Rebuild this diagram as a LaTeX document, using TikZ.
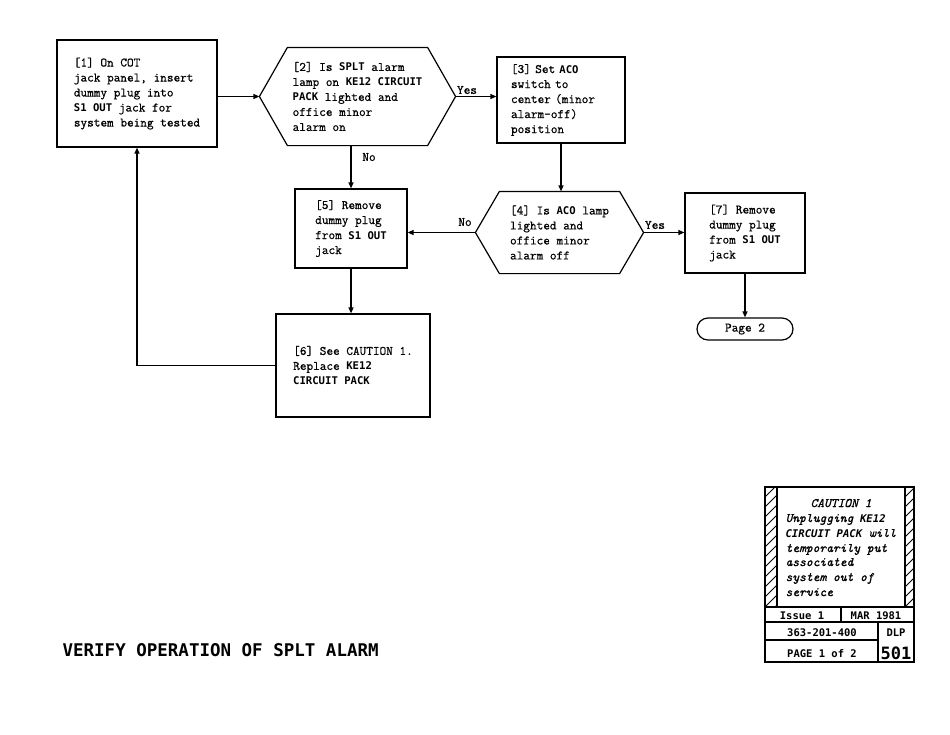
\documentclass[tikz,border=0pt]{standalone}
\usepackage{fontspec}
\usetikzlibrary{arrows.meta}
\newfontfamily\twfont[FakeBold=0.7]{Latin Modern Mono}
\newfontfamily\cwfont[FakeBold=1.2]{Latin Modern Mono}
\newfontfamily\bsfont{DejaVu Sans Mono}
\newcommand\body{\twfont\fontsize{12.9}{15}\selectfont}
\newcommand\Bw[1]{{\bsfont\bfseries\fontsize{10.6}{15}\selectfont #1}}
\tikzset{
  box/.style={draw, rectangle, inner sep=0pt, align=left, font=\body},
  hexn/.style={rectangle, inner sep=0pt, align=left, font=\body},
  term/.style={draw, rectangle, rounded corners=11pt, inner sep=0pt, font=\body},
  lbl/.style={inner sep=0pt, font=\body},
  cline/.style={inner sep=0pt, anchor=base west, font={\cwfont\itshape\fontsize{12.9}{15}\selectfont}},
  tcell/.style={inner sep=0pt, anchor=base, font={\bsfont\bfseries\fontsize{10.5}{14}\selectfont}},
  conn/.style={draw, line width=1.2pt, -{Triangle[length=6pt,width=5pt]}},
  plain/.style={draw, line width=1.2pt}
}
\begin{document}
\begin{tikzpicture}[x=1pt,y=-1pt,line width=1.2pt]
\useasboundingbox[fill=white] (0,0) rectangle (950,734);

% boxes
\node[box, minimum width=160pt, minimum height=107pt] (b1) at (137,93.5)
  {[1] On COT\\jack panel, insert\\dummy plug into\\\Bw{S1 OUT} jack for\\system being tested};
\node[hexn, minimum width=195pt, minimum height=97pt] (h2) at (357.5,96.5)
  {[2] Is \Bw{SPLT} alarm\\lamp on \Bw{KE12 CIRCUIT}\\\Bw{PACK} lighted and\\office minor\\alarm on};
\draw (h2.west) -- ([xshift=28pt]h2.north west) -- ([xshift=-28pt]h2.north east) -- (h2.east)
  -- ([xshift=-28pt]h2.south east) -- ([xshift=28pt]h2.south west) -- cycle;
\node[box, minimum width=128pt, minimum height=86pt, text width=100pt] (b3) at (561,100)
  {[3] Set \Bw{ACO}\\switch to\\center (minor\\alarm-off)\\position};
\node[box, minimum width=112pt, minimum height=79pt] (b5) at (351,228.5)
  {[5] Remove\\dummy plug\\from \Bw{S1 OUT}\\jack};
\node[hexn, minimum width=167pt, minimum height=81pt] (h4) at (559.5,232.5)
  {[4] Is \Bw{ACO} lamp\\lighted and\\office minor\\alarm off};
\draw (h4.west) -- ([xshift=24pt]h4.north west) -- ([xshift=-24pt]h4.north east) -- (h4.east)
  -- ([xshift=-24pt]h4.south east) -- ([xshift=24pt]h4.south west) -- cycle;
\node[box, minimum width=120pt, minimum height=80pt] (b7) at (745,233)
  {[7] Remove\\dummy plug\\from \Bw{S1 OUT}\\jack};
\node[term, minimum width=96pt, minimum height=22pt] (p2) at (745,329) {Page 2};
\node[box, minimum width=154pt, minimum height=103pt] (b6) at (353,365.5)
  {[6] See CAUTION 1.\\Replace \Bw{KE12}\\\Bw{CIRCUIT PACK}};

% connectors
\path[conn] (h2.west -| b1.east) -- (h2.west);
\path[conn] (h2.east) -- (h2.east -| b3.west);
\path[conn] (b5.north |- h2.south) -- (b5.north);
\path[conn] (b3.south) -- (b3.south |- h4.north);
\path[conn] (h4.west) -- (h4.west -| b5.east);
\path[conn] (h4.east) -- (h4.east -| b7.west);
\path[conn] (b7.south) -- (p2.north);
\path[conn] (b5.south) -- (b5.south |- b6.north);
\path[conn] (b6.west) -| (b1.south);

% labels
\node[lbl] (yes1) at (467,90) {Yes};
\node[lbl] (no1) at (369,157) {No};
\node[lbl] (no2) at (465,222) {No};
\node[lbl] (yes2) at (655,225) {Yes};

% title
\node[inner sep=0pt, anchor=base west, font={\bsfont\bfseries\fontsize{17.5}{20}\selectfont}] (title) at (62,656)
  {VERIFY OPERATION OF SPLT ALARM};

% caution block
\begin{scope}
  \clip (765,487) rectangle (777,607);
  \foreach \k in {0,...,14} { \draw[line width=0.8pt] (765,{487+10*\k}) -- (777,{475+10*\k}); }
\end{scope}
\begin{scope}
  \clip (905,487) rectangle (914,607);
  \foreach \k in {0,...,14} { \draw[line width=0.8pt] (905,{487+10*\k}) -- (917,{475+10*\k}); }
\end{scope}
\draw (765,487) rectangle (914,662);
\draw (777,487) -- (777,607);
\draw (905,487) -- (905,607);
\draw (765,607) -- (914,607);
\draw (765,622) -- (914,622);
\draw (765,640) -- (878,640);
\draw (841,607) -- (841,622);
\draw (878,622) -- (878,662);

\node[cline, anchor=base] (c0) at (841,507) {CAUTION 1};
\node[cline] (c1) at (785,522) {Unplugging \Bw{KE12}};
\node[cline] (c2) at (785,537) {\Bw{CIRCUIT PACK} will};
\node[cline] (c3) at (785,552) {temporarily put};
\node[cline] (c4) at (785,566) {associated};
\node[cline] (c5) at (785,581) {system out of};
\node[cline] (c6) at (785,596) {service};

\node[tcell] (t1) at (802,619) {Issue 1};
\node[tcell] (t2) at (876,619) {MAR 1981};
\node[tcell] (t3) at (822,636) {363-201-400};
\node[tcell] (t4) at (896,636) {DLP};
\node[tcell] (t5) at (822,657) {PAGE 1 of 2};
\node[tcell, font={\bsfont\bfseries\fontsize{17}{20}\selectfont}] (t6) at (896,659) {501};
\end{tikzpicture}
\end{document}
